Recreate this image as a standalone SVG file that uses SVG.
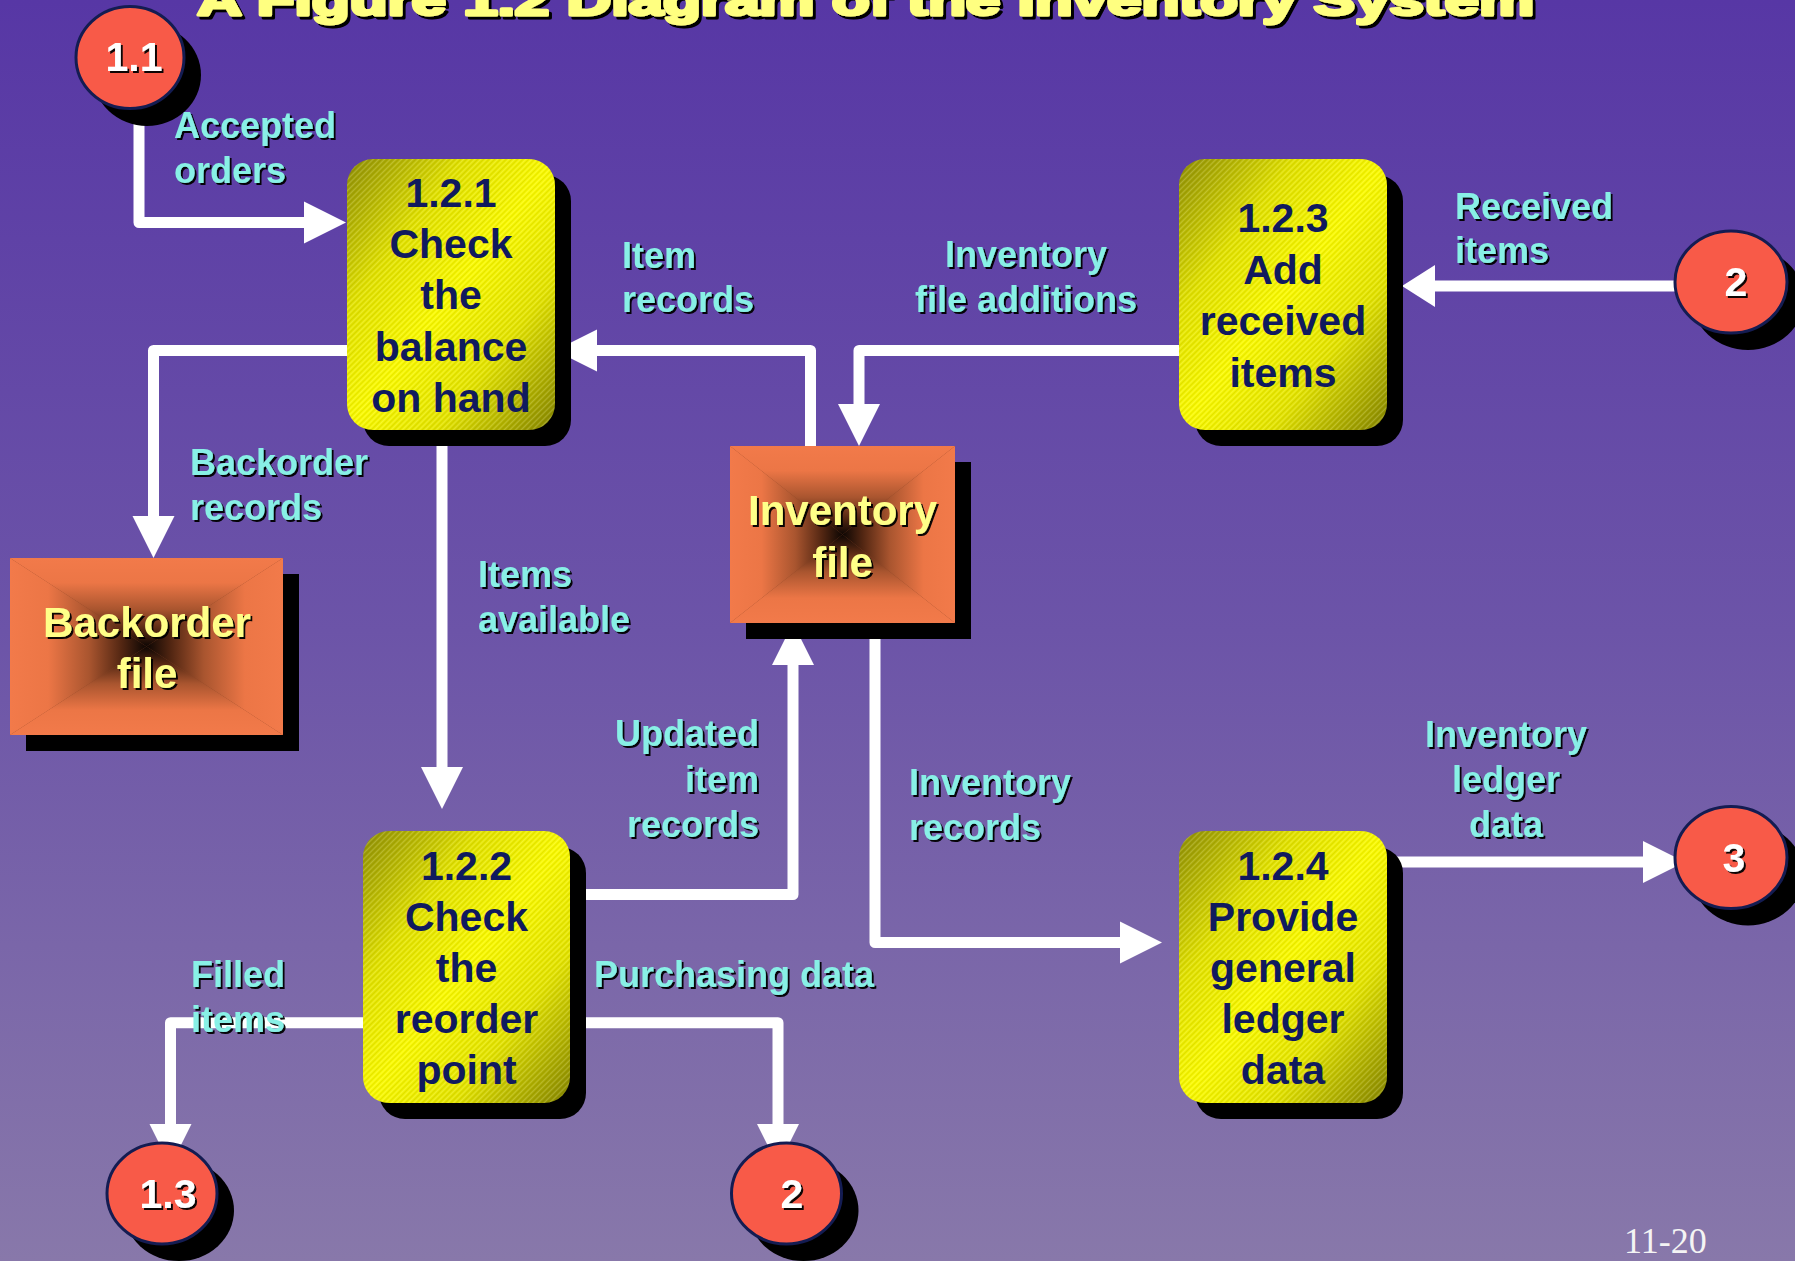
<svg xmlns="http://www.w3.org/2000/svg" width="1795" height="1261" viewBox="0 0 1795 1261">
  <defs>
    <linearGradient id="bg" x1="0" y1="0" x2="0" y2="1">
      <stop offset="0" stop-color="#5737a5"/>
      <stop offset="0.5" stop-color="#6c54a8"/>
      <stop offset="1" stop-color="#8878aa"/>
    </linearGradient>
    <!-- yellow process box: dark olive corners, bright diagonal band -->
    <linearGradient id="procFill" x1="0" y1="0" x2="1" y2="1">
      <stop offset="0" stop-color="#8f8f06"/>
      <stop offset="0.28" stop-color="#e2e200"/>
      <stop offset="0.5" stop-color="#fafa00"/>
      <stop offset="0.72" stop-color="#e4e400"/>
      <stop offset="1" stop-color="#858500"/>
    </linearGradient>
    <pattern id="hatch" width="4" height="4" patternUnits="userSpaceOnUse" patternTransform="rotate(45)">
      <rect width="1" height="4" fill="#ffffff" opacity="0.18"/>
      <rect x="2" width="1" height="4" fill="#000000" opacity="0.08"/>
    </pattern>
    <!-- data store: rectangular pyramid gradient, orange edges to dark centre -->
    <linearGradient id="stTop" x1="0" y1="0" x2="0" y2="1">
      <stop offset="0" stop-color="#f27a4a"/>
      <stop offset="0.28" stop-color="#ec7646"/>
      <stop offset="0.58" stop-color="#a9552f"/>
      <stop offset="0.82" stop-color="#522612"/>
      <stop offset="1" stop-color="#0c0603"/>
    </linearGradient>
    <linearGradient id="stBottom" x1="0" y1="1" x2="0" y2="0" href="#stTop"/>
    <linearGradient id="stLeft" x1="0" y1="0" x2="1" y2="0" href="#stTop"/>
    <linearGradient id="stRight" x1="1" y1="0" x2="0" y2="0" href="#stTop"/>
    <filter id="txtShadow" x="-10%" y="-10%" width="130%" height="140%">
      <feDropShadow dx="2" dy="2" stdDeviation="0.4" flood-color="#000" flood-opacity="0.95"/>
    </filter>
    <filter id="titleShadow" x="-5%" y="-50%" width="110%" height="200%">
      <feDropShadow dx="3" dy="3" stdDeviation="0.4" flood-color="#000" flood-opacity="1"/>
    </filter>
    <style>
      .shadow { fill: #000; }
      .proc { fill: url(#procFill); }
      .hatch { fill: url(#hatch); }
      .ptxt { font-family: "Liberation Sans", Arial, sans-serif; font-weight: bold; font-size: 41px; fill: #101a5e; text-anchor: middle; }
      .stxt { font-family: "Liberation Sans", Arial, sans-serif; font-weight: bold; font-size: 42px; fill: #ffff88; text-anchor: middle; filter: url(#txtShadow); }
      .ent { fill: #f85a48; stroke: #141c52; stroke-width: 3; }
      .etxt { font-family: "Liberation Sans", Arial, sans-serif; font-weight: bold; font-size: 41px; fill: #ffffff; text-anchor: middle; filter: url(#txtShadow); }
      .flow { fill: none; stroke: #ffffff; stroke-width: 11; stroke-linejoin: round; }
      .head { fill: #ffffff; }
      .lbl { font-family: "Liberation Sans", Arial, sans-serif; font-weight: bold; font-size: 36px; fill: #88f0e6; filter: url(#txtShadow); }
      .mid { text-anchor: middle; }
      .end { text-anchor: end; }
    </style>
  </defs>

  <rect width="1795" height="1261" fill="url(#bg)"/>

  <!-- title, mostly above the page edge -->
  <text x="197" y="15" textLength="1337" lengthAdjust="spacingAndGlyphs" font-family="Liberation Sans, Arial, sans-serif" font-weight="bold" font-size="42" fill="#ffff80" stroke="#ffff80" stroke-width="3" stroke-linejoin="round" filter="url(#titleShadow)">A Figure 1.2 Diagram of the Inventory System</text>

  <!-- data flows -->
  <g id="connectors">
    <!-- 1.1 -> 1.2.1 -->
    <path class="flow" d="M139,100 V222.5 H306"/>
    <polygon class="head" points="304,201.5 346,222.5 304,243.5"/>
    <!-- 1.2.1 -> Backorder file -->
    <path class="flow" d="M350,350.5 H153.5 V518"/>
    <polygon class="head" points="132.5,516 174.5,516 153.5,558"/>
    <!-- Inventory file -> 1.2.1 -->
    <path class="flow" d="M810.5,450 V350.5 H595"/>
    <polygon class="head" points="597,329.5 555,350.5 597,371.5"/>
    <!-- 1.2.3 -> Inventory file -->
    <path class="flow" d="M1182,350.5 H859 V406"/>
    <polygon class="head" points="838,404 880,404 859,446"/>
    <!-- 2 -> 1.2.3 -->
    <path class="flow" d="M1690,286 H1432"/>
    <polygon class="head" points="1435,265 1402,286 1435,307"/>
    <!-- 1.2.1 -> 1.2.2 -->
    <path class="flow" d="M442,440 V769"/>
    <polygon class="head" points="421,767 463,767 442,809"/>
    <!-- 1.2.2 -> Inventory file -->
    <path class="flow" d="M566,894.5 H793 V663"/>
    <polygon class="head" points="772,665 814,665 793,623"/>
    <!-- Inventory file -> 1.2.4 -->
    <path class="flow" d="M875,630 V942.5 H1122"/>
    <polygon class="head" points="1120,921.5 1162,942.5 1120,963.5"/>
    <!-- 1.2.4 -> 3 -->
    <path class="flow" d="M1390,862 H1645"/>
    <polygon class="head" points="1643,841 1685,862 1643,883"/>
    <!-- 1.2.2 -> 1.3 -->
    <path class="flow" d="M366,1022.7 H170.5 V1126"/>
    <polygon class="head" points="149.5,1124 191.5,1124 170.5,1166"/>
    <!-- 1.2.2 -> 2 -->
    <path class="flow" d="M566,1022.7 H778 V1126"/>
    <polygon class="head" points="757,1124 799,1124 778,1166"/>
  </g>

  <!-- processes -->
  <g id="p121">
    <rect class="shadow" x="363" y="175" width="208" height="271" rx="26"/>
    <rect class="proc" x="347" y="159" width="208" height="271" rx="26"/>
    <rect class="hatch" x="347" y="159" width="208" height="271" rx="26"/>
    <text class="ptxt" x="451" y="207">1.2.1</text>
    <text class="ptxt" x="451" y="258">Check</text>
    <text class="ptxt" x="451" y="309">the</text>
    <text class="ptxt" x="451" y="361">balance</text>
    <text class="ptxt" x="451" y="412">on hand</text>
  </g>
  <g id="p123">
    <rect class="shadow" x="1195" y="175" width="208" height="271" rx="26"/>
    <rect class="proc" x="1179" y="159" width="208" height="271" rx="26"/>
    <rect class="hatch" x="1179" y="159" width="208" height="271" rx="26"/>
    <text class="ptxt" x="1283" y="232">1.2.3</text>
    <text class="ptxt" x="1283" y="284">Add</text>
    <text class="ptxt" x="1283" y="335">received</text>
    <text class="ptxt" x="1283" y="387">items</text>
  </g>
  <g id="p122">
    <rect class="shadow" x="379" y="847" width="207" height="272" rx="26"/>
    <rect class="proc" x="363" y="831" width="207" height="272" rx="26"/>
    <rect class="hatch" x="363" y="831" width="207" height="272" rx="26"/>
    <text class="ptxt" x="466.5" y="880">1.2.2</text>
    <text class="ptxt" x="466.5" y="931">Check</text>
    <text class="ptxt" x="466.5" y="982">the</text>
    <text class="ptxt" x="466.5" y="1033">reorder</text>
    <text class="ptxt" x="466.5" y="1084">point</text>
  </g>
  <g id="p124">
    <rect class="shadow" x="1195" y="847" width="208" height="272" rx="26"/>
    <rect class="proc" x="1179" y="831" width="208" height="272" rx="26"/>
    <rect class="hatch" x="1179" y="831" width="208" height="272" rx="26"/>
    <text class="ptxt" x="1283" y="880">1.2.4</text>
    <text class="ptxt" x="1283" y="931">Provide</text>
    <text class="ptxt" x="1283" y="982">general</text>
    <text class="ptxt" x="1283" y="1033">ledger</text>
    <text class="ptxt" x="1283" y="1084">data</text>
  </g>

  <!-- data stores -->
  <g id="backorderFile">
    <rect class="shadow" x="26" y="574" width="273" height="177"/>
    <rect x="10" y="558" width="273" height="177" fill="#8a4224"/>
    <polygon points="10,558 283,558 146.5,646.5" fill="url(#stTop)"/>
    <polygon points="10,735 283,735 146.5,646.5" fill="url(#stBottom)"/>
    <polygon points="10,558 10,735 146.5,646.5" fill="url(#stLeft)"/>
    <polygon points="283,558 283,735 146.5,646.5" fill="url(#stRight)"/>
    <text class="stxt" x="147" y="637">Backorder</text>
    <text class="stxt" x="147" y="688">file</text>
  </g>
  <g id="inventoryFile">
    <rect class="shadow" x="746" y="462" width="225" height="177"/>
    <rect x="730" y="446" width="225" height="177" fill="#8a4224"/>
    <polygon points="730,446 955,446 842.5,534.5" fill="url(#stTop)"/>
    <polygon points="730,623 955,623 842.5,534.5" fill="url(#stBottom)"/>
    <polygon points="730,446 730,623 842.5,534.5" fill="url(#stLeft)"/>
    <polygon points="955,446 955,623 842.5,534.5" fill="url(#stRight)"/>
    <text class="stxt" x="842.5" y="525">Inventory</text>
    <text class="stxt" x="842.5" y="577">file</text>
  </g>

  <!-- external processes -->
  <g id="ext11">
    <ellipse class="shadow" cx="147" cy="75" rx="54" ry="51"/>
    <ellipse class="ent" cx="130" cy="57.5" rx="54" ry="51"/>
    <text class="etxt" x="134" y="71">1.1</text>
  </g>
  <g id="ext2top">
    <ellipse class="shadow" cx="1748" cy="299" rx="56" ry="51"/>
    <ellipse class="ent" cx="1731" cy="282" rx="56" ry="51"/>
    <text class="etxt" x="1736" y="296">2</text>
  </g>
  <g id="ext3">
    <ellipse class="shadow" cx="1748" cy="874.5" rx="56" ry="51"/>
    <ellipse class="ent" cx="1731" cy="857.5" rx="56" ry="51"/>
    <text class="etxt" x="1734" y="872">3</text>
  </g>
  <g id="ext13">
    <ellipse class="shadow" cx="179" cy="1210.5" rx="55" ry="50.5"/>
    <ellipse class="ent" cx="162" cy="1193.5" rx="55" ry="50.5"/>
    <text class="etxt" x="168" y="1208">1.3</text>
  </g>
  <g id="ext2bottom">
    <ellipse class="shadow" cx="803.5" cy="1210.5" rx="55" ry="50.5"/>
    <ellipse class="ent" cx="786.5" cy="1193.5" rx="55" ry="50.5"/>
    <text class="etxt" x="792" y="1208">2</text>
  </g>

  <!-- flow labels -->
  <g id="labels">
    <text class="lbl" x="174" y="138">Accepted</text>
    <text class="lbl" x="174" y="183">orders</text>
    <text class="lbl" x="622" y="268">Item</text>
    <text class="lbl" x="622" y="312">records</text>
    <text class="lbl mid" x="1026" y="267">Inventory</text>
    <text class="lbl mid" x="1026" y="312">file additions</text>
    <text class="lbl" x="1455" y="219">Received</text>
    <text class="lbl" x="1455" y="263">items</text>
    <text class="lbl" x="190" y="475">Backorder</text>
    <text class="lbl" x="190" y="520">records</text>
    <text class="lbl" x="478" y="587">Items</text>
    <text class="lbl" x="478" y="632">available</text>
    <text class="lbl end" x="759" y="746">Updated</text>
    <text class="lbl end" x="759" y="792">item</text>
    <text class="lbl end" x="759" y="837">records</text>
    <text class="lbl" x="909" y="795">Inventory</text>
    <text class="lbl" x="909" y="840">records</text>
    <text class="lbl mid" x="1506" y="747">Inventory</text>
    <text class="lbl mid" x="1506" y="792">ledger</text>
    <text class="lbl mid" x="1506" y="837">data</text>
    <text class="lbl" x="191" y="987">Filled</text>
    <text class="lbl" x="191" y="1032">items</text>
    <text class="lbl" x="594" y="987">Purchasing data</text>
  </g>

  <text x="1624" y="1253" font-family="Liberation Serif, Times New Roman, serif" font-size="36" fill="#f4f4f4">11-20</text>
</svg>
